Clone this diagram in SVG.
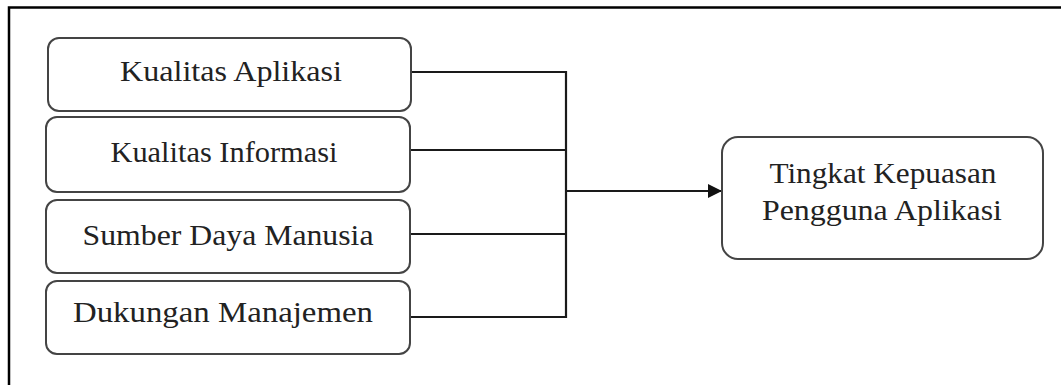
<svg xmlns="http://www.w3.org/2000/svg" width="1061" height="385" viewBox="0 0 1061 385">
<style>
.box{fill:#fff;stroke:#444;stroke-width:2}
.lbl{font-family:"Liberation Serif","Times New Roman",serif;font-size:29px;fill:#222;text-anchor:middle}
.ln{stroke:#1a1a1a;stroke-width:2.2;fill:none}
</style>
<defs>
<marker id="ah" viewBox="0 0 10 10" refX="10" refY="5" markerWidth="6.5" markerHeight="6.5" markerUnits="strokeWidth" orient="auto">
<path d="M0,0 L10,5 L0,10 z" fill="#111"/>
</marker>
</defs>
<rect width="1061" height="385" fill="#fff"/>
<path d="M9,385 V7.5 H1061" fill="none" stroke="#000" stroke-width="2.5"/>
<g id="connectors">
<path class="ln" d="M411,72 H566 M411,150 H566 M411,234 H566 M411,317 H566 M566,71 V318"/>
<path class="ln" d="M566,191 H722" marker-end="url(#ah)"/>
</g>
<g id="n1"><rect class="box" x="48" y="38" width="363" height="73" rx="11"/><text class="lbl" transform="scale(1.1,1)" x="210" y="81" textLength="201.8" lengthAdjust="spacingAndGlyphs">Kualitas Aplikasi</text></g>
<g id="n2"><rect class="box" x="46" y="117" width="364" height="75" rx="11"/><text class="lbl" transform="scale(1.1,1)" x="203.6" y="162" textLength="206.4" lengthAdjust="spacingAndGlyphs">Kualitas Informasi</text></g>
<g id="n3"><rect class="box" x="46" y="200" width="364" height="73" rx="11"/><text class="lbl" transform="scale(1.1,1)" x="207.3" y="245" textLength="264.5" lengthAdjust="spacingAndGlyphs">Sumber Daya Manusia</text></g>
<g id="n4"><rect class="box" x="46" y="281" width="364" height="73" rx="11"/><text class="lbl" transform="scale(1.1,1)" x="202.7" y="322" textLength="272.7" lengthAdjust="spacingAndGlyphs">Dukungan Manajemen</text></g>
<g id="n5"><rect class="box" x="722" y="137" width="321" height="122" rx="16"/><text class="lbl" transform="scale(1.1,1)" x="802.7" y="183" textLength="206.4" lengthAdjust="spacingAndGlyphs">Tingkat Kepuasan</text><text class="lbl" transform="scale(1.1,1)" x="801.8" y="220" textLength="218.2" lengthAdjust="spacingAndGlyphs">Pengguna Aplikasi</text></g>
</svg>
